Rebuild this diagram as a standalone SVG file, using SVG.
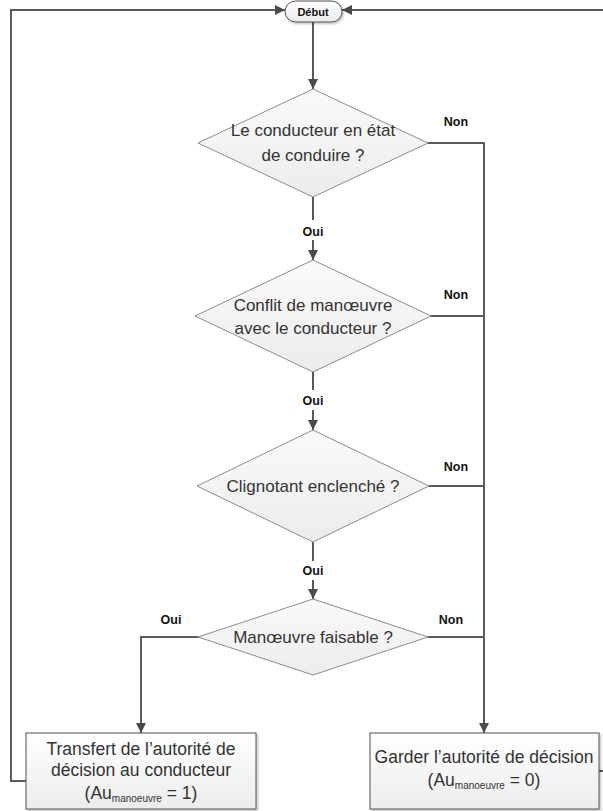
<svg xmlns="http://www.w3.org/2000/svg" width="603" height="811" viewBox="0 0 603 811">
<defs>
<linearGradient id="gd" x1="0" y1="0" x2="0" y2="1"><stop offset="0" stop-color="#fafafa"/><stop offset="1" stop-color="#ececec"/></linearGradient>
<linearGradient id="gb" x1="0" y1="0" x2="0" y2="1"><stop offset="0" stop-color="#ffffff"/><stop offset="1" stop-color="#ececec"/></linearGradient>
<marker id="ah" viewBox="0 0 10 10" refX="10" refY="5" markerWidth="10" markerHeight="10" markerUnits="userSpaceOnUse" orient="auto"><path d="M0,0 L10,5 L0,10 z" fill="#4a4a4a"/></marker>
<filter id="sh" x="-5%" y="-5%" width="115%" height="120%"><feDropShadow dx="1.5" dy="1.5" stdDeviation="1.2" flood-color="#000" flood-opacity="0.25"/></filter>
</defs>
<style>
.dia{fill:url(#gd);stroke:#8c8c8c;stroke-width:1}
.box{fill:url(#gb);stroke:#555;stroke-width:1}
.con{fill:none;stroke:#5a5a5a;stroke-width:2}
.t{font-family:"Liberation Sans",Arial,sans-serif;font-size:17px;fill:#333;text-anchor:middle}
.tb{font-size:17.5px}
.sub{font-size:10px}
.lb{font-family:"Liberation Sans",Arial,sans-serif;font-size:12.5px;font-weight:bold;fill:#111;text-anchor:middle}
</style>
<rect width="603" height="811" fill="#fff"/>
<g id="connectors">
<path class="con" d="M313,22 V89" marker-end="url(#ah)"/>
<path class="con" d="M313,197 V220"/>
<path class="con" d="M313,240 V260" marker-end="url(#ah)"/>
<path class="con" d="M313,372 V390"/>
<path class="con" d="M313,410 V430" marker-end="url(#ah)"/>
<path class="con" d="M313,542 V561"/>
<path class="con" d="M313,580 V599" marker-end="url(#ah)"/>
<path class="con" d="M428,143 H484 V733" marker-end="url(#ah)"/>
<path class="con" d="M431,316 H484"/>
<path class="con" d="M429,486 H484"/>
<path class="con" d="M428,637 H484"/>
<path class="con" d="M198,637 H141 V733" marker-end="url(#ah)"/>
<path class="con" d="M26,781 H11 V10 H285" marker-end="url(#ah)"/>
<path class="con" d="M599,771 H607 V10 H342" marker-end="url(#ah)"/>
</g>
<g id="debut">
<rect x="285" y="1" width="57" height="21" rx="10.5" fill="url(#gb)" stroke="#555" stroke-width="1" filter="url(#sh)"/>
<text class="lb" x="313" y="15.5" style="font-size:11px">Début</text>
</g>
<g id="d1">
<polygon class="dia" points="313,89 428,143 313,197 198,143"/>
<text class="t" x="313" y="136">Le conducteur en état</text>
<text class="t" x="313" y="161">de conduire ?</text>
</g>
<g id="d2">
<polygon class="dia" points="313,260 431,316 313,372 195,316"/>
<text class="t" x="313" y="311">Conflit de manœuvre</text>
<text class="t" x="313" y="334">avec le conducteur ?</text>
</g>
<g id="d3">
<polygon class="dia" points="313,430 429,486 313,542 197,486"/>
<text class="t" x="313" y="492">Clignotant enclenché ?</text>
</g>
<g id="d4">
<polygon class="dia" points="313,599 428,637 313,675 198,637"/>
<text class="t" x="313" y="643">Manœuvre faisable ?</text>
</g>
<g id="b1">
<rect class="box" x="26" y="733" width="230" height="76" filter="url(#sh)"/>
<text class="t tb" x="141" y="755">Transfert de l’autorité de</text>
<text class="t tb" x="141" y="776">décision au conducteur</text>
<text class="t tb" x="141" y="799">(Au<tspan class="sub" dy="3">manoeuvre</tspan><tspan dy="-3"> = 1)</tspan></text>
</g>
<g id="b2">
<rect class="box" x="370" y="733" width="229" height="76" filter="url(#sh)"/>
<text class="t tb" x="484" y="763">Garder l’autorité de décision</text>
<text class="t tb" x="484" y="786">(Au<tspan class="sub" dy="3">manoeuvre</tspan><tspan dy="-3"> = 0)</tspan></text>
</g>
<g id="labels">
<text class="lb" x="456" y="126">Non</text>
<text class="lb" x="313" y="236">Oui</text>
<text class="lb" x="456" y="299">Non</text>
<text class="lb" x="313" y="405">Oui</text>
<text class="lb" x="456" y="471">Non</text>
<text class="lb" x="313" y="575">Oui</text>
<text class="lb" x="171" y="624">Oui</text>
<text class="lb" x="451" y="624">Non</text>
</g>
</svg>
